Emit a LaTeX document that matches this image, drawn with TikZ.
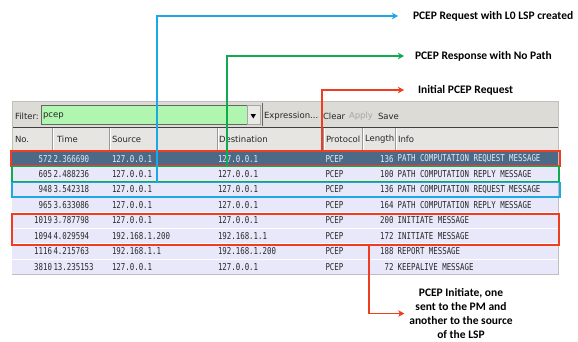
\documentclass[tikz,border=0pt]{standalone}
\usepackage{fontspec}
\setmainfont{DejaVu Sans}
\newfontfamily\monof[FakeStretch=0.78]{DejaVu Sans Mono}
\newfontfamily\annof{Carlito}
\usetikzlibrary{arrows.meta}
\definecolor{cblue}{RGB}{28,168,228}
\definecolor{cgreen}{RGB}{16,170,80}
\definecolor{cred}{RGB}{240,60,32}
\definecolor{tbgray}{RGB}{220,219,214}
\definecolor{hdgray}{RGB}{230,229,226}
\definecolor{rowlav}{RGB}{232,232,250}
\definecolor{rowsel}{RGB}{74,106,136}
\definecolor{selfg}{RGB}{228,234,242}
\definecolor{rowfg}{RGB}{40,40,40}
\definecolor{filtgreen}{RGB}{176,246,176}
\begin{document}
\begin{tikzpicture}[x=1pt,y=-1pt,
  mono/.style={font=\monof\fontsize{9.5}{11}\selectfont, inner sep=0, outer sep=0},
  ui/.style={font=\fontsize{8.5}{10}\selectfont, inner sep=0, outer sep=0, text=black!85},
  anno/.style={font=\annof\bfseries\fontsize{11.5}{14}\selectfont, inner sep=0, outer sep=0, align=center},
  rowbg/.style={minimum width=546pt, minimum height=15.5pt, anchor=north west, inner sep=0, outer sep=0, draw=none},
  hlbox/.style={draw, line width=1.8pt, anchor=north west, inner sep=0, outer sep=0, fill=none},
  conn/.style={line width=1.8pt, -{Stealth[length=6pt,width=6.5pt,inset=1.5pt]}}]
\useasboundingbox (0,0) rectangle (578,341);

% toolbar and header
\fill[tbgray] (12,101) rectangle (558,127);
\fill[hdgray] (12,127) rectangle (558,150.5);
\draw[black!75, line width=1pt] (12,127) -- (558,127);
\draw[black!75, line width=1pt] (12,150.3) -- (558,150.3);
\draw[black!25] (12,101) rectangle (558,274.5);

\node[ui, anchor=west] (flab) at (15,116) {Filter:};
\node[draw=black!60, fill=filtgreen, minimum width=206pt, minimum height=19pt, anchor=north west, inner sep=0] (fbox) at (41,105) {};
\node[ui, anchor=west] (ftext) at (43,116) {pcep};
\node[draw=black!35, fill=tbgray!60!white, minimum width=13pt, minimum height=19pt, anchor=north west, inner sep=0] (fdrop) at (247,105) {};
\fill[black] (250.6,114) -- (255.9,114) -- (253.25,118.5) -- cycle;
\draw[black!60] (262,103) -- (262,126);
\node[ui, anchor=west] (expr) at (264,116) {Expression...};
\node[ui, anchor=west] (clear) at (323,116) {Clear};
\node[ui, anchor=west, text=black!35] (apply) at (349,116) {Apply};
\node[ui, anchor=west] (save) at (378,116) {Save};

\foreach \x in {52,109,217,323,362,395}{
  \draw[black!40] (\x,128) -- (\x,150);
  \draw[white] (\x+1,128) -- (\x+1,150);
}
\node[ui, anchor=west] (hno) at (15,139) {No.};
\node[ui, anchor=west] (htime) at (57,139) {Time};
\node[ui, anchor=west] (hsrc) at (112,139) {Source};
\node[ui, anchor=west] (hdst) at (219,139) {Destination};
\node[ui, anchor=west] (hproto) at (326,139) {Protocol};
\node[ui, anchor=west] (hlen) at (365,139) {Length};
\node[ui, anchor=west] (hinfo) at (398,139) {Info};

% rows
\foreach \i/\bg/\fg/\no/\tm/\src/\dst/\len/\inf in {
 0/rowsel/selfg/572/2.366690/127.0.0.1/127.0.0.1/136/PATH COMPUTATION REQUEST MESSAGE,
 1/rowlav/rowfg/605/2.488236/127.0.0.1/127.0.0.1/100/PATH COMPUTATION REPLY MESSAGE,
 2/rowlav/rowfg/948/3.542318/127.0.0.1/127.0.0.1/136/PATH COMPUTATION REQUEST MESSAGE,
 3/rowlav/rowfg/965/3.633086/127.0.0.1/127.0.0.1/164/PATH COMPUTATION REPLY MESSAGE,
 4/rowlav/rowfg/1019/3.787798/127.0.0.1/127.0.0.1/200/INITIATE MESSAGE,
 5/rowlav/rowfg/1094/4.029594/192.168.1.200/192.168.1.1/172/INITIATE MESSAGE,
 6/rowlav/rowfg/1116/4.215763/192.168.1.1/192.168.1.200/188/REPORT MESSAGE,
 7/rowlav/rowfg/3810/13.235153/127.0.0.1/127.0.0.1/72/KEEPALIVE MESSAGE}{
  \pgfmathsetmacro\ytop{150.8+15.45*\i}
  \node[rowbg, fill=\bg] (row\i) at (12,\ytop) {};
  \draw[white, line width=0.7pt] (row\i.north west) -- (row\i.north east);
  \node[mono, text=\fg, anchor=east] (no\i) at ([xshift=40pt]row\i.west) {\no};
  \node[mono, text=\fg, anchor=west] (tm\i) at ([xshift=41.5pt]row\i.west) {\tm};
  \node[mono, text=\fg, anchor=west] (src\i) at ([xshift=100pt]row\i.west) {\src};
  \node[mono, text=\fg, anchor=west] (dst\i) at ([xshift=206pt]row\i.west) {\dst};
  \node[mono, text=\fg, anchor=west] (pr\i) at ([xshift=313.5pt]row\i.west) {PCEP};
  \node[mono, text=\fg, anchor=east] (len\i) at ([xshift=381.5pt]row\i.west) {\len};
  \node[mono, text=\fg, anchor=west] (inf\i) at ([xshift=385.7pt]row\i.west) {\inf};
}

% highlight boxes
\node[hlbox, draw=cred, minimum width=549pt, minimum height=15pt] (redbox) at (11,151) {};
\node[hlbox, draw=cgreen, minimum width=547pt, minimum height=15pt] (greenbox) at (12,166.5) {};
\node[hlbox, draw=cblue, minimum width=548pt, minimum height=14.5pt] (bluebox) at (12,182.5) {};
\node[hlbox, draw=cred, minimum width=547pt, minimum height=31pt] (redbox2) at (12,214) {};

% annotations
\node[anno, anchor=west] (lab1) at (413,16) {PCEP Request with L0 LSP created};
\node[anno, anchor=west] (lab2) at (415,56) {PCEP Response with No Path};
\node[anno, anchor=west] (lab3) at (418,90) {Initial PCEP Request};
\node[anno] (lab4) at (461,313.5) {PCEP Initiate, one\\sent to the PM and\\another to the source\\of the LSP};

% connectors
\coordinate (bfoot) at (157,182.5);
\coordinate (gfoot) at (227,166.5);
\coordinate (rfoot) at (322,151);
\coordinate (rfoot2) at (369,245);
\draw[conn, cblue, shorten >=15pt] (bfoot) |- (lab1.west);
\draw[conn, cgreen, shorten >=11pt] (gfoot) |- (lab2.west);
\draw[conn, cred, shorten >=14pt] (rfoot) |- (lab3.west);
\draw[conn, cred, shorten >=5pt] (rfoot2) |- (lab4.west);
\end{tikzpicture}
\end{document}
